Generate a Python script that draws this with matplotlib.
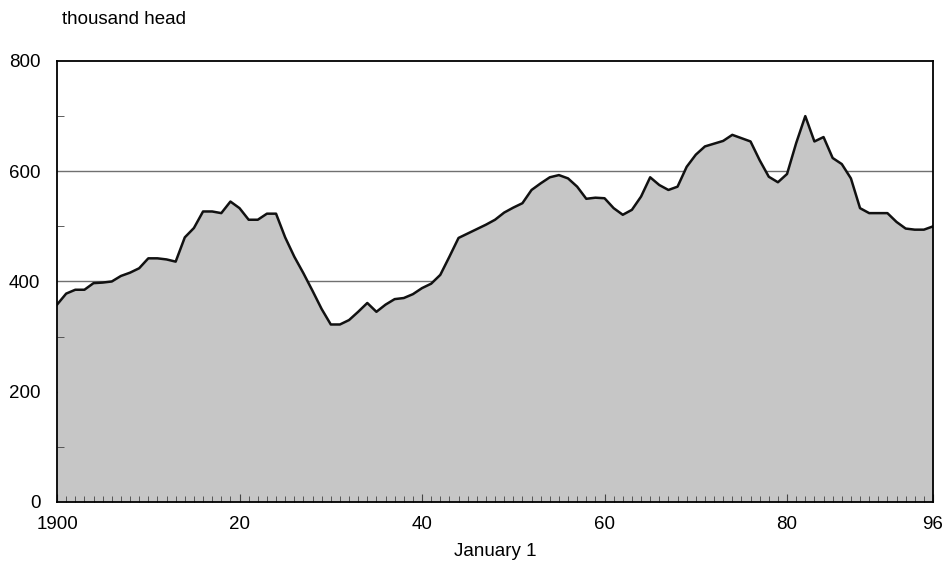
import numpy as np
import matplotlib.pyplot as plt
from matplotlib.ticker import MultipleLocator

plt.rcParams['font.family'] = ['Liberation Sans', 'DejaVu Sans']

# cattle on farms, January 1, thousand head
years = list(range(1900, 1997))
head = [358, 378, 385, 385, 397, 398, 400, 410, 416, 424,
        442, 442, 440, 436, 480, 497, 527, 527, 524, 545,
        533, 512, 512, 523, 523, 480, 445, 415, 383, 350,
        322, 322, 330, 345, 361, 345, 358, 368, 370, 377,
        388, 396, 412, 445, 479, 487, 495, 503, 512, 525,
        534, 542, 566, 578, 589, 593, 587, 572, 550, 552,
        551, 533, 521, 530, 554, 589, 575, 566, 572, 608,
        630, 645, 650, 655, 666, 660, 654, 620, 590, 580,
        595, 651, 700, 654, 662, 624, 613, 587, 533, 524,
        524, 524, 508, 496, 494, 494, 500]
xtick_pos = [1900, 1920, 1940, 1960, 1980, 1996]
xtick_lab = ['1900', '20', '40', '60', '80', '96']
ytick_pos = [0, 200, 400, 600, 800]

fig = plt.figure(figsize=(9.46, 5.61), dpi=100)
ax = fig.add_axes([0.0603, 0.1052, 0.9260, 0.7861])

for y in [200, 400, 600]:
    ax.axhline(y, color='#707070', lw=1.0, zorder=0)

ax.fill_between(years, head, 0, color='#c6c6c6', lw=0, zorder=1)
ax.plot(years, head, color='#111111', lw=1.8, zorder=3)

ax.set_xlim(1900, 1996)
ax.set_ylim(0, 800)
ax.set_xticks(xtick_pos)
ax.set_xticklabels(xtick_lab)
ax.set_yticks(ytick_pos)
ax.xaxis.set_minor_locator(MultipleLocator(1))
ax.yaxis.set_minor_locator(MultipleLocator(100))
ax.tick_params(axis='both', which='both', direction='in', labelsize=13.5, color='#444444')
ax.tick_params(axis='x', which='major', length=6, pad=10)
ax.tick_params(axis='x', which='minor', length=4)
ax.tick_params(axis='y', which='major', length=0, pad=12)
ax.tick_params(axis='y', which='minor', length=5)
for s in ax.spines.values():
    s.set_linewidth(1.3)
    s.set_zorder(4)
ax.set_axisbelow(False)

ax.set_xlabel('January 1', fontsize=13.5, labelpad=7)
fig.text(62 / 946, 1 - 20 / 561, 'thousand head', fontsize=13.5, va='center', ha='left')

fig.savefig('out.png', dpi=100)
